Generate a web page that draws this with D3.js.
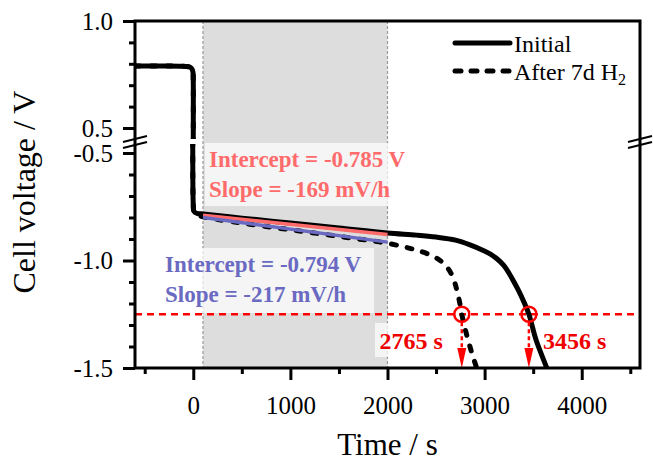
<!DOCTYPE html>
<html>
<head>
<meta charset="utf-8">
<script src="https://cdn.jsdelivr.net/npm/d3@7"></script>
<style>
  body { margin: 0; background: #fff; }
  svg { display: block; font-family: "Liberation Serif", "Times New Roman", serif; }
</style>
</head>
<body>
<div id="chart"></div>
<script>
// discharge curves, time in s, voltage in V
const initialTime = [-600, -300, -120, -60, -30, -12, -3, 0, 0, 8, 40, 100, 500, 1000, 1500, 2000, 2300, 2500, 2700, 2850, 2980, 3060, 3130, 3195, 3250, 3300, 3350, 3400, 3456, 3530, 3640, 3700];
const initialVolt = [0.79, 0.79, 0.789, 0.787, 0.783, 0.775, 0.76, 0.72, -0.74, -0.772, -0.781, -0.784, -0.803, -0.826, -0.849, -0.872, -0.882, -0.891, -0.905, -0.927, -0.952, -0.970, -0.993, -1.022, -1.058, -1.098, -1.140, -1.188, -1.25, -1.37, -1.50, -1.58];

const agedTime = [-600, -300, -120, -60, -30, -12, -3, 0, 0, 8, 40, 100, 500, 1000, 1500, 2000, 2270, 2420, 2510, 2580, 2645, 2694, 2715, 2740, 2765, 2795, 2830, 2875, 2918, 2950];
const agedVolt = [0.79, 0.79, 0.789, 0.787, 0.783, 0.775, 0.76, 0.72, -0.74, -0.775, -0.788, -0.797, -0.826, -0.857, -0.888, -0.920, -0.948, -0.970, -0.990, -1.015, -1.052, -1.105, -1.140, -1.188, -1.25, -1.31, -1.37, -1.44, -1.50, -1.55];

const seriesNames = ["Initial", "After 7d H"];
const fitWindow = [100, 2000];
const fitIntercepts = [-0.785, -0.794];   // V
const fitSlopes = [-169, -217];           // mV/h
const cutoffVoltage = -1.25;
const crossTimes = [2765, 3456];

const xMajorTicks = [0, 1000, 2000, 3000, 4000];
const xMinorTicks = [-500, 500, 1500, 2500, 3500, 4500];
const upperMajorTicks = [0.5, 1.0];
const upperMinorTicks = [0.6, 0.7, 0.8, 0.9];
const lowerMajorTicks = [-1.5, -1.0, -0.5];
const lowerMinorTicks = [-1.4, -1.3, -1.2, -1.1, -0.9, -0.8, -0.7, -0.6];

const width = 653, height = 462;
const pLeft = 135, pRight = 640, pTop = 21, pBottom = 368;
const upperClip = [pTop, 139], lowerClip = [144, pBottom];

const x = d3.scaleLinear().domain([-600, 4600]).range([pLeft, pRight]);
const yUp = d3.scaleLinear().domain([0.5, 1.0]).range([128, pTop]);
const yLo = d3.scaleLinear().domain([-1.5, -0.5]).range([pBottom, 153]);

const svg = d3.select("#chart").append("svg")
  .attr("width", width)
  .attr("height", height)
  .attr("viewBox", `0 0 ${width} ${height}`);

const defs = svg.append("defs");
defs.append("clipPath").attr("id", "clip-up")
  .append("rect").attr("x", pLeft).attr("y", upperClip[0]).attr("width", pRight - pLeft).attr("height", upperClip[1] - upperClip[0]);
defs.append("clipPath").attr("id", "clip-lo")
  .append("rect").attr("x", pLeft).attr("y", lowerClip[0]).attr("width", pRight - pLeft).attr("height", lowerClip[1] - lowerClip[0]);

// shaded fitting window
svg.append("rect")
  .attr("x", x(fitWindow[0])).attr("y", pTop)
  .attr("width", x(fitWindow[1]) - x(fitWindow[0])).attr("height", pBottom - pTop)
  .attr("fill", "#dddddd");
svg.selectAll(".win-edge").data(fitWindow).join("line")
  .attr("x1", d => x(d)).attr("x2", d => x(d))
  .attr("y1", pTop).attr("y2", pBottom)
  .attr("stroke", "#999").attr("stroke-width", 1.2).attr("stroke-dasharray", "3,2");

// cutoff line
svg.append("line")
  .attr("x1", pLeft).attr("x2", pRight)
  .attr("y1", yLo(cutoffVoltage)).attr("y2", yLo(cutoffVoltage))
  .attr("stroke", "#ff0000").attr("stroke-width", 2.7).attr("stroke-dasharray", "7,5");

// curves, drawn once per panel
const curves = [
  { t: initialTime, v: initialVolt, dash: null },
  { t: agedTime, v: agedVolt, dash: "5,11" }
];
[["clip-up", yUp], ["clip-lo", yLo]].forEach(([clip, y]) => {
  curves.forEach(c => {
    const path = d3.line()
      .x(i => x(c.t[i]))
      .y(i => y(c.v[i]))
      .curve(d3.curveCatmullRom.alpha(0.5))(d3.range(c.t.length));
    svg.append("path")
      .attr("d", path)
      .attr("clip-path", `url(#${clip})`)
      .attr("fill", "none")
      .attr("stroke", "#000")
      .attr("stroke-width", 5)
      .attr("stroke-linecap", "round")
      .attr("stroke-linejoin", "round")
      .attr("stroke-dasharray", c.dash);
  });
});

// linear fits
const fitColors = ["#ff6b6b", "#6a6ac2"];
fitIntercepts.forEach((b, k) => {
  const pts = fitWindow.map(t => [t, b + fitSlopes[k] / 1000 * t / 3600]);
  svg.append("line")
    .attr("x1", x(pts[0][0])).attr("y1", yLo(pts[0][1]))
    .attr("x2", x(pts[1][0])).attr("y2", yLo(pts[1][1]))
    .attr("stroke", fitColors[k]).attr("stroke-width", 3.5);
});

// annotation boxes
const boxes = [
  { x: 205, y: 143, w: 196, h: 63, tx: 209, color: fitColors[0], k: 0 },
  { x: 158, y: 248, w: 216, h: 65, tx: 165, color: fitColors[1], k: 1 }
];
boxes.forEach(b => {
  svg.append("rect").attr("x", b.x).attr("y", b.y).attr("width", b.w).attr("height", b.h)
    .attr("fill", "#fff").attr("fill-opacity", 0.7);
  svg.append("text").attr("x", b.tx).attr("y", b.y + 24)
    .attr("font-size", 23).attr("font-weight", "bold").attr("fill", b.color)
    .text(`Intercept = ${fitIntercepts[b.k].toFixed(3)} V`);
  svg.append("text").attr("x", b.tx).attr("y", b.y + 54)
    .attr("font-size", 23).attr("font-weight", "bold").attr("fill", b.color)
    .text(`Slope = ${fitSlopes[b.k]} mV/h`);
});

// crossing markers
const yCut = yLo(cutoffVoltage);
svg.append("rect").attr("x", 375).attr("y", 323).attr("width", 72).attr("height", 34)
  .attr("fill", "#fff").attr("fill-opacity", 0.7);
crossTimes.forEach((t, k) => {
  const cx = x(t);
  svg.append("circle").attr("cx", cx).attr("cy", yCut).attr("r", 7.5)
    .attr("fill", "none").attr("stroke", "#ff0000").attr("stroke-width", 2.5);
  svg.append("line").attr("x1", cx).attr("x2", cx).attr("y1", yCut + 8).attr("y2", 350)
    .attr("stroke", "#ff0000").attr("stroke-width", 2.5).attr("stroke-dasharray", "4,3");
  svg.append("path")
    .attr("d", `M${cx - 4.5},${348}L${cx + 4.5},${348}L${cx},${pBottom}Z`)
    .attr("fill", "#ff0000");
  svg.append("text")
    .attr("x", k === 0 ? cx - 19 : cx + 14)
    .attr("y", 349)
    .attr("text-anchor", k === 0 ? "end" : "start")
    .attr("font-size", 24).attr("font-weight", "bold").attr("fill", "#ee0000")
    .text(`${t} s`);
});

// frame
svg.append("rect").attr("x", pLeft).attr("y", pTop).attr("width", pRight - pLeft).attr("height", pBottom - pTop)
  .attr("fill", "none").attr("stroke", "#000").attr("stroke-width", 3);

// x axis
const xAxisG = svg.append("g").attr("transform", `translate(0,${pBottom})`);
xAxisG.call(d3.axisBottom(x).tickValues(xMajorTicks).tickSize(12).tickPadding(16).tickFormat(d3.format("d")));
xAxisG.append("g").call(d3.axisBottom(x).tickValues(xMinorTicks).tickSize(6).tickFormat(""));
xAxisG.selectAll(".domain").remove();
xAxisG.selectAll("line").attr("stroke", "#000").attr("stroke-width", 3);
xAxisG.selectAll("text").attr("font-size", 25).attr("font-family", "Liberation Serif").attr("fill", "#000");

// y axes, one per panel
[[yUp, upperMajorTicks, upperMinorTicks], [yLo, lowerMajorTicks, lowerMinorTicks]].forEach(([y, major, minor]) => {
  const g = svg.append("g").attr("transform", `translate(${pLeft},0)`);
  g.call(d3.axisLeft(y).tickValues(major).tickSize(12).tickPadding(10)
    .tickFormat(d => d3.format(".1f")(d).replace("\u2212", "-")));
  g.append("g").call(d3.axisLeft(y).tickValues(minor).tickSize(6).tickFormat(""));
  g.selectAll(".domain").remove();
  g.selectAll("line").attr("stroke", "#000").attr("stroke-width", 3);
  g.selectAll("text").attr("font-size", 25).attr("font-family", "Liberation Serif").attr("fill", "#000");
});

// axis break marks
const breakY = [139, 145];
[pLeft, pRight].forEach(ax => {
  breakY.forEach(by => {
    svg.append("line")
      .attr("x1", ax - 12).attr("y1", by + 3)
      .attr("x2", ax + 12).attr("y2", by - 3)
      .attr("stroke", "#000").attr("stroke-width", 2.2);
  });
});

// axis titles
svg.append("text").attr("x", (pLeft + pRight) / 2).attr("y", 455)
  .attr("text-anchor", "middle").attr("font-size", 31).text("Time / s");
svg.append("text").attr("transform", "translate(35,192) rotate(-90)")
  .attr("text-anchor", "middle").attr("font-size", 32).text("Cell voltage / V");

// legend
const legend = svg.append("g");
seriesNames.forEach((name, k) => {
  const ly = 43 + k * 28;
  legend.append("line").attr("x1", 455).attr("x2", 510).attr("y1", ly).attr("y2", ly)
    .attr("stroke", "#000").attr("stroke-width", 5).attr("stroke-linecap", "round")
    .attr("stroke-dasharray", k === 1 ? "6,10" : null);
  const txt = legend.append("text").attr("x", 514).attr("y", ly + 9).attr("font-size", 24).text(name);
  if (k === 1) txt.append("tspan").attr("font-size", 16).attr("dy", 5).text("2");
});
</script>
</body>
</html>
